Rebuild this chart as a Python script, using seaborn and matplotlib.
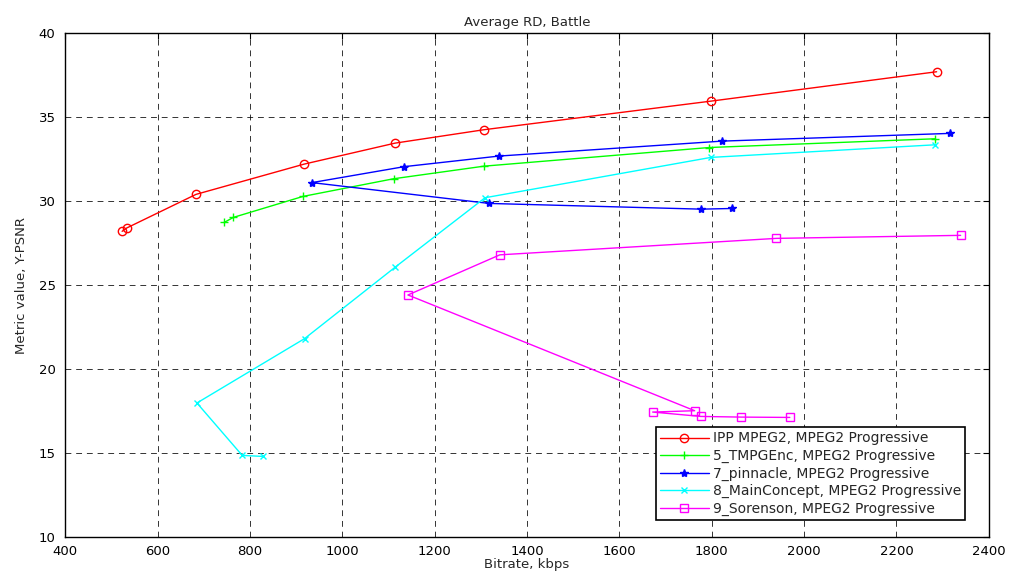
import matplotlib
matplotlib.use("Agg")
import matplotlib.pyplot as plt
import seaborn as sns
import pandas as pd

sns.set_style("white")
plt.rcParams['font.family'] = ['DejaVu Sans']

labels = ["IPP MPEG2, MPEG2 Progressive",
          "5_TMPGEnc, MPEG2 Progressive",
          "7_pinnacle, MPEG2 Progressive",
          "8_MainConcept, MPEG2 Progressive",
          "9_Sorenson, MPEG2 Progressive"]

ipp_x = [523, 533, 683, 917, 1114, 1307, 1798, 2287]
ipp_y = [28.2, 28.4, 30.4, 32.2, 33.45, 34.25, 35.95, 37.7]

tmpg_x = [744, 764, 915, 1111, 1307, 1795, 2284]
tmpg_y = [28.73, 29.03, 30.28, 31.33, 32.08, 33.19, 33.71]

pinn_x = [1844, 1777, 1318, 934, 1134, 1339, 1822, 2316]
pinn_y = [29.56, 29.52, 29.86, 31.1, 32.05, 32.68, 33.57, 34.03]

mc_x = [2283, 1798, 1309, 1115, 918, 685, 783, 827]
mc_y = [33.35, 32.6, 30.2, 26.08, 21.81, 17.98, 14.86, 14.8]

sor_x = [2339, 1940, 1341, 1142, 1763, 1672, 1776, 1864, 1969]
sor_y = [27.96, 27.78, 26.8, 24.41, 17.52, 17.44, 17.18, 17.14, 17.12]

series = [(ipp_x, ipp_y), (tmpg_x, tmpg_y), (pinn_x, pinn_y), (mc_x, mc_y), (sor_x, sor_y)]
colors = ["#ff0000", "#00ff00", "#0000ff", "#00ffff", "#ff00ff"]
markers = ["o", "+", "*", "x", "s"]
msizes = [6, 6, 6, 4, 6]

fig = plt.figure(figsize=(10.1, 5.71), dpi=100)
ax = fig.add_axes([0.0647, 0.0595, 0.9143, 0.8825])

for (xs, ys), lab, c, m, ms in zip(series, labels, colors, markers, msizes):
    df = pd.DataFrame({"x": xs, "y": ys})
    filled = m in ("*",)
    sns.lineplot(data=df, x="x", y="y", sort=False, ax=ax, color=c, lw=1.0,
                 marker=m, markersize=ms, markeredgecolor=c,
                 markerfacecolor=(c if filled else "none"),
                 markeredgewidth=1.0, label=lab, estimator=None)

ax.set_xlim(400, 2400)
ax.set_ylim(10, 40)
ax.set_xticks(range(400, 2401, 200))
ax.set_yticks(range(10, 41, 5))
ax.grid(True, color="black", linestyle=(0, (6, 5)), linewidth=0.7, alpha=0.8)
ax.tick_params(direction="in", length=4, labelsize=9.5, colors="black", top=True, right=True)
ax.tick_params(axis="x", pad=6)
ax.tick_params(axis="y", pad=7)
for sp in ax.spines.values():
    sp.set_color("black")
    sp.set_linewidth(1.0)

ax.set_xlabel("Bitrate, kbps", fontsize=9.5, labelpad=0)
ax.set_ylabel("Metric value, Y-PSNR", fontsize=9.5, labelpad=8)
ax.set_title("Average RD, Battle", fontsize=9.5, pad=5)

leg = ax.legend(loc="lower right", bbox_to_anchor=(0.982, 0.02), fontsize=10,
                frameon=True, fancybox=False, framealpha=1, edgecolor="black",
                handlelength=3.5, borderpad=0.3, labelspacing=0.25, handletextpad=0.3)
leg.get_frame().set_linewidth(1.2)

fig.savefig("out.png", dpi=100)
